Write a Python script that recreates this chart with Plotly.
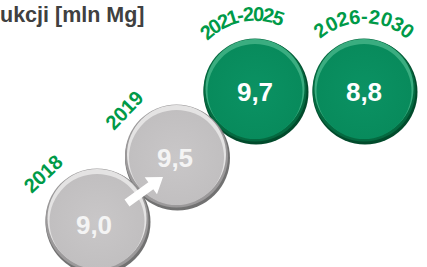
import math
import plotly.graph_objects as go

# ---- data ----
periods = ["2018", "2019", "2021-2025", "2026-2030"]
values = [9.0, 9.5, 9.7, 8.8]
value_labels = ["9,0", "9,5", "9,7", "8,8"]
title_text = "ukcji [mln Mg]"

# ---- layout (pixel space) ----
W, H = 427, 267
cx = [97, 176.5, 255, 364]
cy = [220, 156, 90, 90]
txt_x = [94, 175, 255, 364]
txt_y = [227, 160, 94, 94]
DIAM = 105

GREEN_TXT = "#009a48"
styles = {
    "gray": dict(shadow="#707070", rim="#9a9899", hi="#e4e3e3", body="#c9c7c8", body_edge="#c1bfc0", txt="#f4f4f4"),
    "green": dict(shadow="#014a2b", rim="#04683f", hi="#3aad80", body="#0b9263", body_edge="#088b5c", txt="#ffffff"),
}
kinds = ["gray", "gray", "green", "green"]

fig = go.Figure()

def add_circle(i):
    s = styles[kinds[i]]
    x, y = cx[i], cy[i]
    layers = [
        (x + 1, y + 2, DIAM, s["shadow"], s["rim"]),
        (x, y, DIAM - 2, s["rim"], s["body"]),
        (x, y - 1.5, DIAM - 6, s["hi"], s["hi"]),
        (x, y + 1.5, DIAM - 10, s["body_edge"], s["body"]),
    ]
    for lx, ly, sz, edge, center in layers:
        fig.add_trace(go.Scatter(
            x=[lx], y=[ly], mode="markers", hoverinfo="skip", showlegend=False,
            cliponaxis=False,
            marker=dict(size=sz, color=edge, line=dict(width=0),
                        gradient=dict(type="radial", color=center)),
        ))

# draw back to front
for i in [3, 2, 1, 0]:
    add_circle(i)

# values
fig.add_trace(go.Scatter(
    x=txt_x, y=txt_y, mode="text", hoverinfo="skip", showlegend=False,
    text=["<b>%s</b>" % t for t in value_labels],
    textfont=dict(family="Liberation Sans, Arial", size=26,
                  color=[styles[k]["txt"] for k in kinds]),
    cliponaxis=False,
))

# arrow (white) between first two bubbles
tail = (127, 203)
tip = (163, 177)
dx, dy = tip[0] - tail[0], tip[1] - tail[1]
L = math.hypot(dx, dy)
ux, uy = dx / L, dy / L
px, py = -uy, ux
shaft_w, head_w, head_l = 8.5, 21, 15
bx, by = tip[0] - ux * head_l, tip[1] - uy * head_l
pts = [
    (tail[0] + px * shaft_w / 2, tail[1] + py * shaft_w / 2),
    (bx + px * shaft_w / 2, by + py * shaft_w / 2),
    (bx + px * head_w / 2, by + py * head_w / 2),
    tip,
    (bx - px * head_w / 2, by - py * head_w / 2),
    (bx - px * shaft_w / 2, by - py * shaft_w / 2),
    (tail[0] - px * shaft_w / 2, tail[1] - py * shaft_w / 2),
]
path = "M " + " L ".join("%.2f,%.2f" % p for p in pts) + " Z"
fig.add_shape(type="path", path=path, xref="x", yref="y",
              fillcolor="white", line=dict(width=0), layer="above")

annotations = []
# straight rotated period labels
straight = [(0, 43, 174, -43), (1, 124.5, 110, -46)]
for i, x, y, ang in straight:
    annotations.append(dict(x=x, y=y, xref="x", yref="y", showarrow=False,
                            text="<b>%s</b>" % periods[i], textangle=ang,
                            font=dict(family="Liberation Sans, Arial", size=20, color=GREEN_TXT),
                            xanchor="center", yanchor="middle"))

# curved period labels
arcs = [(2, 255, 89, 75, 130, 72), (3, 364, 89, 73, 126.5, 53)]
for i, ax, ay, r, a0, a1 in arcs:
    s = periods[i]
    w = [0.333 if ch == "-" else 0.556 for ch in s]
    centers = []
    acc = 0
    for wi in w:
        centers.append(acc + wi / 2)
        acc += wi
    c0, c1 = centers[0], centers[-1]
    for ch, c in zip(s, centers):
        t = (c - c0) / (c1 - c0)
        th = a0 + (a1 - a0) * t
        x = ax + r * math.cos(math.radians(th))
        y = ay - r * math.sin(math.radians(th))
        annotations.append(dict(x=x, y=y, xref="x", yref="y", showarrow=False,
                                text="<b>%s</b>" % ch, textangle=90 - th,
                                font=dict(family="Liberation Sans, Arial", size=20, color=GREEN_TXT),
                                xanchor="center", yanchor="middle"))

# title (partially cut at left in the original)
annotations.append(dict(x=147, y=15, xref="x", yref="y", showarrow=False,
                        text="<b>%s</b>" % title_text,
                        font=dict(family="Liberation Sans, Arial", size=21.5, color="#404040"),
                        xanchor="right", yanchor="middle"))

fig.update_layout(
    width=W, height=H, margin=dict(l=0, r=0, t=0, b=0),
    paper_bgcolor="white", plot_bgcolor="white",
    xaxis=dict(range=[0, W], visible=False, fixedrange=True),
    yaxis=dict(range=[H, 0], visible=False, fixedrange=True),
    annotations=annotations, showlegend=False,
)

fig.write_html("out.html", config={"displayModeBar": False},
               post_script="document.body.style.margin='0';document.body.style.overflow='hidden';")
